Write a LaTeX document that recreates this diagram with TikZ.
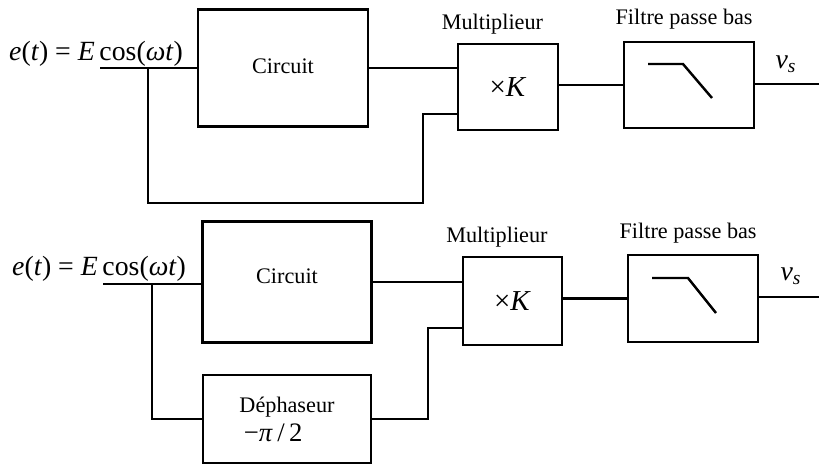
\documentclass[tikz,border=0pt]{standalone}
\usepackage{fontspec}
\setmainfont{Liberation Serif}
\usetikzlibrary{positioning}

\begin{document}
\begin{tikzpicture}[
  x=0.45pt, y=-0.45pt, line width=1pt,
  blk/.style={draw, line width=1pt, inner sep=2pt, align=center,
              font=\fontsize{10}{12}\selectfont},
  lbl/.style={inner sep=1pt, font=\fontsize{10}{12}\selectfont},
  sig/.style={inner sep=0pt, font=\fontsize{12.5}{15}\selectfont}]
\useasboundingbox (0,0) rectangle (819,465);

% upper chain: feedback straight to the multiplier
\node[blk, minimum width=76.5pt, minimum height=52.7pt, text depth=1.8pt] (circ1) at (283,68) {Circuit};
\node[blk, minimum width=45pt, minimum height=39pt] (mult1) at (508,87)
  {\fontsize{13}{15}\selectfont ×\textit{K}};
\node[blk, minimum width=58.5pt, minimum height=39pt] (filt1) at (689,85) {};
\node[lbl, above=2.2pt of mult1, xshift=-7pt] (mlab1) {Multiplieur};
\node[lbl, above=3.5pt of filt1, xshift=-2.2pt] (flab1) {Filtre passe bas};
\node[sig, anchor=base east] (e1) at (184,60)
  {\textit{e}(\textit{t}) = \textit{E}\,cos(\textit{ωt})};
\node[sig] (vs1) at ([shift={(31,-21)}]filt1.east) {\textit{v}\textsubscript{\textit{s}}};
\coordinate (in1) at (100,68);
\coordinate (j1) at (148,68);
\coordinate (low1) at (423,203);
\coordinate (k1) at (423,114);
\coordinate (out1) at (819,84);
\draw (in1) -- (circ1.west);
\draw (circ1.east) -- (circ1.east -| mult1.west);
\draw (j1) |- (low1) -- (k1) -- (k1 -| mult1.west);
\draw (filt1.west -| mult1.east) -- (filt1.west);
\draw (filt1.east |- out1) -- (out1);
\draw[line width=1.1pt] ([shift={(-41,-21)}]filt1.center) -- ++(35,0) -- ++(29,34);

% lower chain: through the phase shifter
\node[blk, minimum width=76pt, minimum height=54.5pt, text depth=5.4pt] (circ2) at (287,282) {Circuit};
\node[blk, minimum width=75.6pt, minimum height=39.6pt, align=left] (deph) at (287,419)
  {Déphaseur\\[1pt]\hspace*{2pt}\fontsize{12}{14}\selectfont −\textit{π}\,/\,2};
\node[blk, minimum width=44.6pt, minimum height=39.6pt] (mult2) at (512.5,301)
  {\fontsize{13}{15}\selectfont ×\textit{K}};
\node[blk, minimum width=58.5pt, minimum height=39pt] (filt2) at (693,298.5) {};
\node[lbl, above=2.2pt of mult2, xshift=-7pt] (mlab2) {Multiplieur};
\node[lbl, above=3.5pt of filt2, xshift=-2.2pt] (flab2) {Filtre passe bas};
\node[sig, anchor=base east] (e2) at (187,275)
  {\textit{e}(\textit{t}) = \textit{E}\,cos(\textit{ωt})};
\node[sig] (vs2) at ([shift={(32,-22)}]filt2.east) {\textit{v}\textsubscript{\textit{s}}};
\coordinate (in2) at (103,284);
\coordinate (j2) at (152,284);
\coordinate (k2) at (428,328);
\coordinate (out2) at (819,297);
\draw (in2) -- (in2 -| circ2.west);
\draw (circ2.east) -- (circ2.east -| mult2.west);
\draw (j2) |- (deph.west);
\draw (deph.east) -| (k2) -- (k2 -| mult2.west);
\draw (filt2.west -| mult2.east) -- (filt2.west);
\draw (filt2.east |- out2) -- (out2);
\draw[line width=1.1pt] ([shift={(-41,-20.5)}]filt2.center) -- ++(36,0) -- ++(28,35);
\end{tikzpicture}
\end{document}
